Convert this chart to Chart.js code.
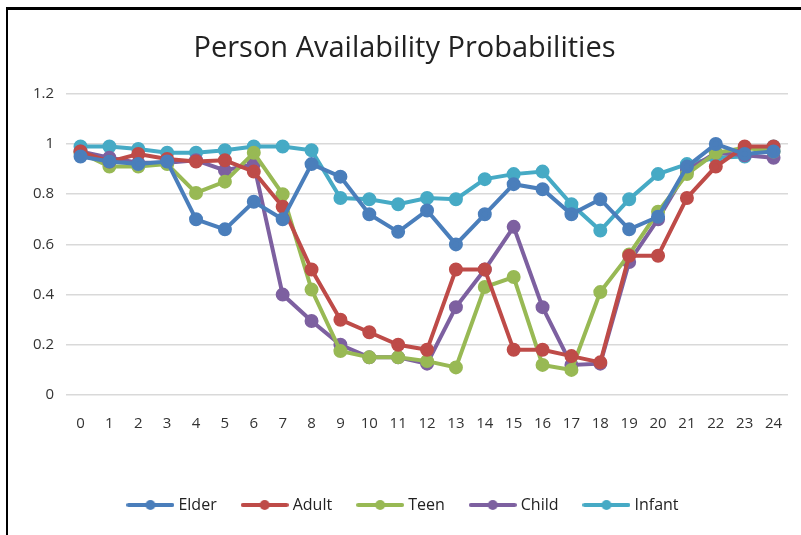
<!DOCTYPE html>
<html>
<head>
<meta charset="utf-8">
<script src="https://cdn.jsdelivr.net/npm/chart.js@4"></script>
<style>
  html, body { margin: 0; padding: 0; background: #fff; }
  #wrap { position: relative; width: 801px; height: 535px; }
  #frame { position: absolute; left: 6px; top: 7px; right: 0; bottom: 0;
           border-left: 2px solid #000; border-top: 3px solid #000; }
  canvas { position: absolute; left: 0; top: 0; }
</style>
</head>
<body>
<div id="wrap">
  <canvas id="chart" width="801" height="535"></canvas>
  <div id="frame"></div>
</div>
<script>
const hours = ['0','1','2','3','4','5','6','7','8','9','10','11','12','13','14','15','16','17','18','19','20','21','22','23','24'];

const elder  = [0.95, 0.93, 0.92, 0.93, 0.70, 0.66, 0.77, 0.70, 0.92, 0.87, 0.72, 0.65, 0.735, 0.60, 0.72, 0.84, 0.82, 0.72, 0.78, 0.66, 0.71, 0.91, 1.00, 0.96, 0.97];
const adult  = [0.97, 0.93, 0.96, 0.94, 0.93, 0.935, 0.89, 0.75, 0.50, 0.30, 0.25, 0.20, 0.18, 0.50, 0.50, 0.18, 0.18, 0.155, 0.13, 0.555, 0.555, 0.785, 0.91, 0.99, 0.99];
const teen   = [0.965, 0.91, 0.91, 0.92, 0.805, 0.85, 0.965, 0.80, 0.42, 0.175, 0.15, 0.15, 0.135, 0.11, 0.43, 0.47, 0.12, 0.10, 0.41, 0.56, 0.73, 0.88, 0.965, 0.985, 0.97];
const child  = [0.97, 0.945, 0.925, 0.925, 0.935, 0.895, 0.92, 0.40, 0.295, 0.20, 0.15, 0.15, 0.125, 0.35, 0.50, 0.67, 0.35, 0.12, 0.125, 0.53, 0.70, 0.895, 0.965, 0.955, 0.945];
const infant = [0.99, 0.99, 0.98, 0.965, 0.965, 0.975, 0.99, 0.99, 0.975, 0.785, 0.78, 0.76, 0.785, 0.78, 0.86, 0.88, 0.89, 0.76, 0.655, 0.78, 0.88, 0.92, 0.945, 0.95, 0.99];

const names  = ['Elder', 'Adult', 'Teen', 'Child', 'Infant'];
const colors = ['#4a7ebb', '#be4b48', '#98b954', '#7d60a0', '#46aac5'];
const series = [elder, adult, teen, child, infant];

const FONT = "'Open Sans', sans-serif";

// legend marker: short line with a dot, like the spreadsheet legend
function marker(color) {
  const c = document.createElement('canvas');
  c.width = 48; c.height = 14;
  const g = c.getContext('2d');
  g.strokeStyle = color; g.lineWidth = 4; g.lineCap = 'round';
  g.beginPath(); g.moveTo(2, 7); g.lineTo(46, 7); g.stroke();
  g.fillStyle = color;
  g.beginPath(); g.arc(24, 7, 5, 0, Math.PI * 2); g.fill();
  return c;
}

new Chart(document.getElementById('chart'), {
  type: 'line',
  data: {
    labels: hours,
    datasets: series.map((d, i) => ({
      label: names[i],
      data: d,
      borderColor: colors[i],
      backgroundColor: colors[i],
      borderWidth: 4,
      pointRadius: 5,
      pointHoverRadius: 5,
      tension: 0
    }))
  },
  options: {
    responsive: false,
    animation: false,
    layout: { padding: { left: 21, right: 13, top: 31, bottom: 12 } },
    scales: {
      y: {
        min: 0,
        max: 1.2,
        ticks: {
          stepSize: 0.2, color: '#333', font: { family: FONT, size: 15 }, padding: 12,
          callback: v => String(Number(v.toFixed(1)))
        },
        grid: { color: '#d9d9d9', lineWidth: 1.5, drawTicks: false },
        border: { display: false }
      },
      x: {
        offset: true,
        ticks: { color: '#333', font: { family: FONT, size: 15 }, padding: 12, maxRotation: 0, autoSkip: false },
        grid: { display: false },
        border: { display: false },
        afterFit: s => { s.height += 24; }
      }
    },
    plugins: {
      title: {
        display: true,
        text: 'Person Availability Probabilities',
        color: '#222',
        font: { family: FONT, size: 29, weight: 'normal' },
        padding: { top: 0, bottom: 28 }
      },
      legend: {
        position: 'bottom',
        labels: {
          usePointStyle: true,
          pointStyleWidth: 40,
          boxHeight: 14,
          color: '#222',
          font: { family: FONT, size: 16 },
          padding: 28,
          generateLabels: chart => chart.data.datasets.map((ds, i) => ({
            text: ds.label,
            pointStyle: marker(colors[i]),
            fillStyle: colors[i],
            strokeStyle: colors[i],
            fontColor: '#222',
            datasetIndex: i
          }))
        }
      },
      tooltip: { enabled: false }
    }
  }
});
</script>
</body>
</html>
